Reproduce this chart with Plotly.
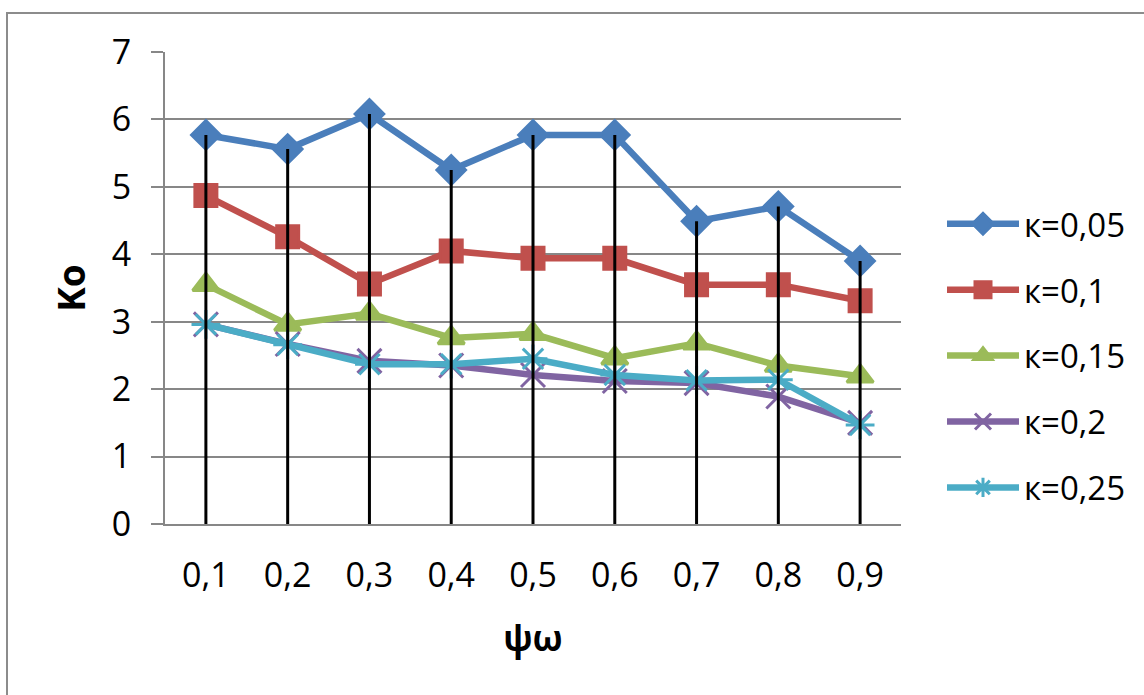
import plotly.graph_objects as go

# Categories along the x axis
psi = ["0,1", "0,2", "0,3", "0,4", "0,5", "0,6", "0,7", "0,8", "0,9"]

# Ko values per series
k005 = [5.77, 5.56, 6.08, 5.25, 5.77, 5.77, 4.49, 4.71, 3.90]
k010 = [4.87, 4.26, 3.56, 4.05, 3.94, 3.94, 3.55, 3.55, 3.31]
k015 = [3.55, 2.96, 3.12, 2.76, 2.82, 2.46, 2.68, 2.35, 2.19]
k020 = [2.96, 2.67, 2.42, 2.35, 2.21, 2.12, 2.09, 1.89, 1.50]
k025 = [2.96, 2.66, 2.37, 2.37, 2.45, 2.21, 2.13, 2.14, 1.47]

series_names = ["к=0,05", "к=0,1", "к=0,15", "к=0,2", "к=0,25"]

W, H = 1144, 695
PL, PR, PT, PB = 165, 901, 52, 524.5  # plot area in pixels

FONT = "Open Sans"
GRID = "#878787"

styles = [
    dict(color="#4A7EBB", symbol="diamond", size=22, lw=6.5),
    dict(color="#C0504D", symbol="square", size=22, lw=6.5),
    dict(color="#9BBB59", symbol="triangle-up", size=23, lw=6.5),
    dict(color="#8064A2", symbol="x-thin-open", size=24, lw=6.5),
    dict(color="#4BACC6", symbol="asterisk-open", size=24, lw=6.5),
]

fig = go.Figure()

for name, vals, st in zip(series_names, [k005, k010, k015, k020, k025], styles):
    fig.add_trace(go.Scatter(
        x=psi, y=vals, name=name, mode="lines+markers",
        line=dict(color=st["color"], width=st["lw"]),
        marker=dict(symbol=st["symbol"], size=st["size"], color=st["color"],
                    line=dict(color=st["color"], width=3)),
        legendgroup=name,
    ))

# Drop lines: from the highest series value at each category down to zero
tops = [max(v) for v in zip(k005, k010, k015, k020, k025)]
dx, dy = [], []
for c, t in zip(psi, tops):
    dx += [c, c, None]
    dy += [0, t, None]
fig.add_trace(go.Scatter(
    x=dx, y=dy, mode="lines", line=dict(color="black", width=3),
    showlegend=False, hoverinfo="skip",
))

def px_x(p):
    return (p - PL) / (PR - PL)

def px_y(p):
    return (PB - p) / (PB - PT)

# Outer chart border
fig.add_shape(type="rect", xref="paper", yref="paper",
              x0=px_x(7), x1=px_x(1160), y0=px_y(710), y1=px_y(13),
              line=dict(color="#8c8c8c", width=2), fillcolor="rgba(0,0,0,0)",
              layer="below")

fig.update_layout(
    width=W, height=H,
    margin=dict(l=PL, r=W - PR, t=PT, b=H - PB),
    paper_bgcolor="white", plot_bgcolor="white",
    font=dict(family=FONT, size=33, color="black"),
    showlegend=True,
    legend=dict(
        x=px_x(942), y=px_y(196), xanchor="left", yanchor="top",
        font=dict(family=FONT, size=33, color="black"),
        tracegroupgap=20, itemwidth=72,
        bgcolor="rgba(0,0,0,0)",
    ),
    xaxis=dict(
        type="category", range=[-0.5, 8.5],
        showgrid=False, showline=True, linecolor=GRID, linewidth=2,
        ticks="", ticklabelstandoff=20,
        tickfont=dict(family=FONT, size=34),
        title=dict(text="<b>ψω</b>", font=dict(family=FONT, size=35), standoff=31),
        zeroline=False,
    ),
    yaxis=dict(
        range=[0, 7], dtick=1, tickvals=[0, 1, 2, 3, 4, 5, 6, 7],
        showgrid=True, gridcolor=GRID, gridwidth=2,
        showline=True, linecolor=GRID, linewidth=2,
        ticks="outside", ticklen=12, tickcolor=GRID, tickwidth=2,
        ticklabelstandoff=13,
        tickfont=dict(family=FONT, size=34),
        title=dict(text="<b>Ko</b>", font=dict(family=FONT, size=37), standoff=15),
        zeroline=False,
    ),
)

fig.write_html("out.html")
